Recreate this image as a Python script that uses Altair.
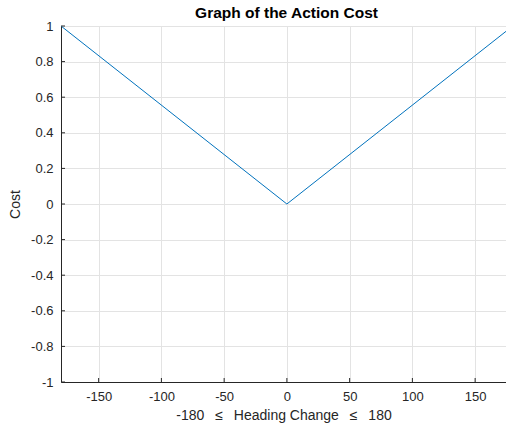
import altair as alt
import pandas as pd

# Cost of a heading change: linear in |angle|, normalised to 1 at ±180
heading = [-180, 0, 180]
cost = [1.0, 0.0, 1.0]

x_ticks = [-150, -100, -50, 0, 50, 100, 150]
y_ticks = [-1, -0.8, -0.6, -0.4, -0.2, 0, 0.2, 0.4, 0.6, 0.8, 1]

X_MIN, X_MAX = -180, 174.6
Y_MIN, Y_MAX = -1, 1

FONT = "Liberation Sans"
INK = "#262626"
GRID = "#e3e3e3"

line_df = pd.DataFrame({"heading": heading, "cost": cost})
xt_df = pd.DataFrame({"v": x_ticks})
yt_df = pd.DataFrame({"v": y_ticks})

xscale = alt.Scale(domain=[X_MIN, X_MAX], nice=False, zero=False)
yscale = alt.Scale(domain=[Y_MIN, Y_MAX], nice=False, zero=False)

label_expr = "datum.value < 0 ? '-' + format(-datum.value, '~g') : format(datum.value, '~g')"

x_axis = alt.Axis(
    values=x_ticks, grid=True, gridColor=GRID, gridWidth=1,
    ticks=False, domain=True, domainColor=INK, domainWidth=1,
    labelFont=FONT, labelFontSize=13, labelColor=INK, labelPadding=8,
    labelOverlap=False, labelExpr=label_expr,
    title="-180 \u2002\u2264\u2002 Heading Change \u2002\u2264\u2002 180",
    titleFont=FONT, titleFontSize=14, titleFontWeight="normal",
    titleColor=INK, titlePadding=5,
)
y_axis = alt.Axis(
    values=y_ticks, grid=True, gridColor=GRID, gridWidth=1,
    ticks=False, domain=True, domainColor=INK, domainWidth=1,
    labelFont=FONT, labelFontSize=13, labelColor=INK, labelPadding=8,
    labelOverlap=False, labelExpr=label_expr,
    title="Cost", titleFont=FONT, titleFontSize=14, titleFontWeight="normal",
    titleColor=INK, titlePadding=8,
)

line = alt.Chart(line_df).mark_line(color="#0072BD", strokeWidth=1, clip=True).encode(
    x=alt.X("heading:Q", scale=xscale, axis=x_axis),
    y=alt.Y("cost:Q", scale=yscale, axis=y_axis),
)

# inward-pointing tick marks along the bottom and left axes
x_tick_marks = alt.Chart(xt_df).mark_rule(color=INK, strokeWidth=1).encode(
    x=alt.X("v:Q", scale=xscale, axis=x_axis),
    y=alt.value(356),
    y2=alt.value(352),
)
y_tick_marks = alt.Chart(yt_df).mark_rule(color=INK, strokeWidth=1).encode(
    y=alt.Y("v:Q", scale=yscale, axis=y_axis),
    x=alt.value(0),
    x2=alt.value(4),
)

chart = alt.layer(line, x_tick_marks, y_tick_marks).properties(
    width=445,
    height=356,
    title=alt.Title(
        "Graph of the Action Cost", font=FONT, fontSize=15.5, fontWeight="bold",
        color="#000000", anchor="middle", dx=3, offset=-1,
    ),
    autosize=alt.AutoSizeParams(type="none"),
    padding={"left": 61, "top": 26, "right": 0, "bottom": 46},
).configure_view(stroke=None).configure(background="white")

chart.save("out.html", embed_options={"renderer": "svg", "actions": False})
